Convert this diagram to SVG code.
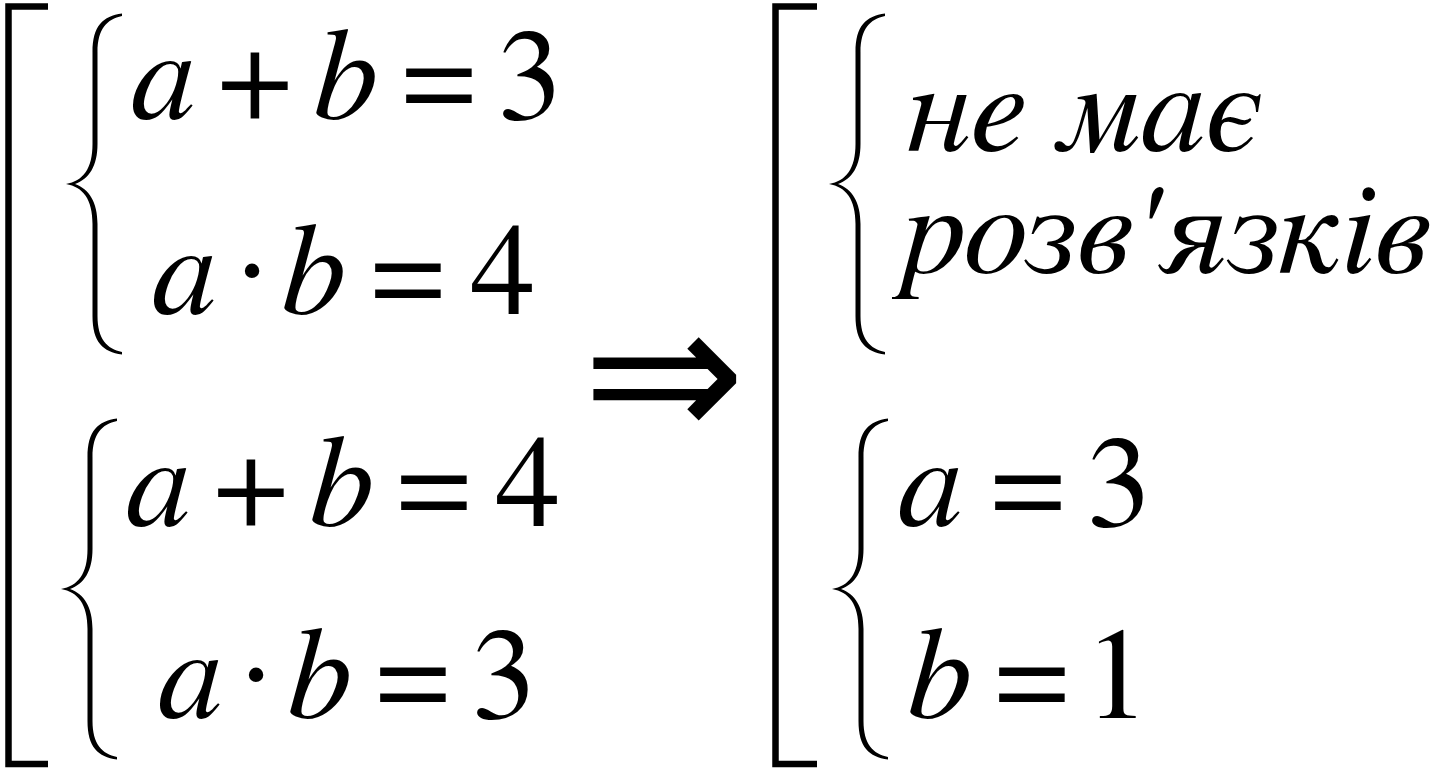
<svg xmlns="http://www.w3.org/2000/svg" xmlns:xlink="http://www.w3.org/1999/xlink" width="1438" height="772" viewBox="0 0 1438 772">
<style>
  .f { font-family: "FreeSerif", "Nimbus Roman", "TeX Gyre Termes", "Liberation Serif", "Times New Roman", serif; font-size: 130px; fill: #000; }
  .it { font-style: italic; }
  .c { text-anchor: middle; }
  .bracket { fill: none; stroke: #000; stroke-width: 6.5; stroke-linecap: butt; stroke-linejoin: miter; }
  .brace { fill: #000; stroke: none; }
  .arrow { font-family: "DejaVu Sans", sans-serif; font-size: 195px; fill: #000; text-anchor: middle; }
</style>
<defs>
  <path id="brace" class="brace" d="M55,-170.5 C36,-168 25.5,-158 25.5,-132 L25.5,-40 C25.5,-15 16,-3 -1,0 C16,3 25.5,15 25.5,40 L25.5,132 C25.5,158 36,168 55,170.5 L55,168 C40,165 30.5,155 30.5,132 L30.5,40 C30.5,18 22,5 8,0 C22,-5 30.5,-18 30.5,-40 L30.5,-132 C30.5,-155 40,-165 55,-168 Z"/>
</defs>
<rect width="1438" height="772" fill="#fff"/>

<g id="left-bracket">
  <path class="bracket" d="M48,6.5 H8.5 V764 H48"/>
</g>

<g id="system-1" class="f">
  <use xlink:href="#brace" transform="translate(67,184)"/>
  <text class="it c" x="163" y="119">a</text>
  <text class="c" x="255" y="119">+</text>
  <text class="it c" x="344" y="119">b</text>
  <text class="c" x="439" y="119">=</text>
  <text class="c" x="530" y="119">3</text>
  <text class="it c" x="184" y="314">a</text>
  <text class="c" x="252" y="314">·</text>
  <text class="it c" x="312" y="314">b</text>
  <text class="c" x="408" y="314">=</text>
  <text class="c" x="503" y="314">4</text>
</g>

<g id="system-2" class="f">
  <use xlink:href="#brace" transform="translate(62,589)"/>
  <text class="it c" x="158" y="526">a</text>
  <text class="c" x="251" y="526">+</text>
  <text class="it c" x="340" y="526">b</text>
  <text class="c" x="434" y="526">=</text>
  <text class="c" x="528" y="526">4</text>
  <text class="it c" x="190" y="718">a</text>
  <text class="c" x="256" y="718">·</text>
  <text class="it c" x="318" y="718">b</text>
  <text class="c" x="413" y="718">=</text>
  <text class="c" x="504" y="718">3</text>
</g>

<g id="connectors">
  <text class="arrow" x="664" y="440">⇒</text>
</g>

<g id="right-bracket">
  <path class="bracket" d="M817,6.5 H775.5 V764 H817"/>
</g>

<g id="system-3" class="f">
  <use xlink:href="#brace" transform="translate(830,184)"/>
  <text class="it" x="907" y="151" textLength="356" lengthAdjust="spacing">не має</text>
  <text class="it" x="902" y="273" textLength="527" lengthAdjust="spacing">розв'язків</text>
</g>

<g id="system-4" class="f">
  <use xlink:href="#brace" transform="translate(833,589)"/>
  <text class="it c" x="930" y="526">a</text>
  <text class="c" x="1028" y="526">=</text>
  <text class="c" x="1119" y="526">3</text>
  <text class="it c" x="938" y="718">b</text>
  <text class="c" x="1032" y="718">=</text>
  <text class="c" x="1117" y="718">1</text>
</g>
</svg>
